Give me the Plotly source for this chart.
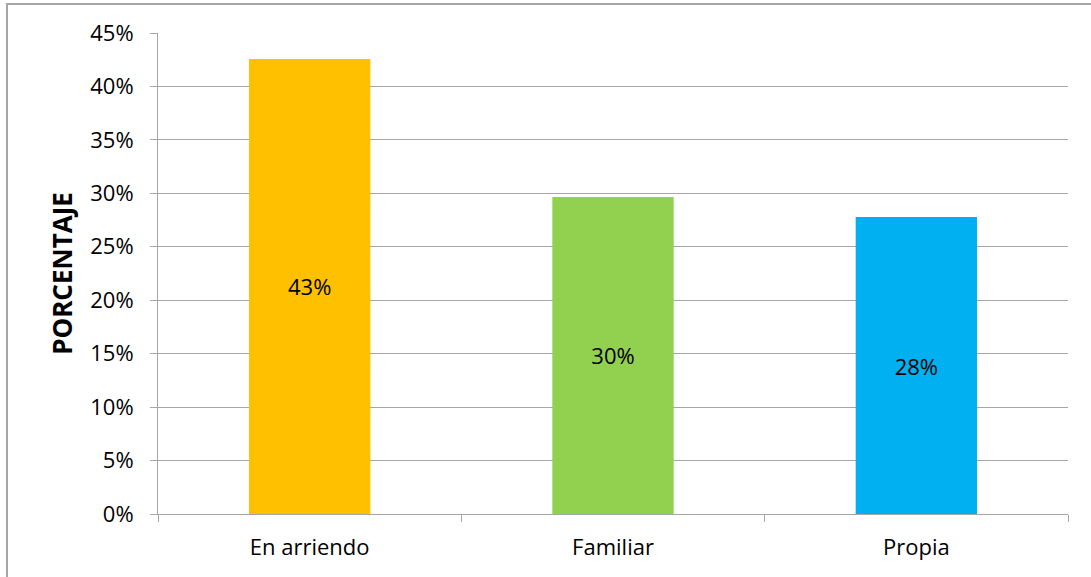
import plotly.graph_objects as go

categories = ["En arriendo", "Familiar", "Propia"]
values = [0.4257, 0.2966, 0.2778]
colors = ["#FFC000", "#92D050", "#00B0F0"]

W, H = 1091, 577
L, R, T, B = 158, 23, 33, 63
pw, ph = W - L - R, H - T - B
FONT = "Open Sans"

fig = go.Figure(go.Bar(
    x=categories, y=values,
    marker=dict(color=colors, line=dict(width=0)),
    texttemplate="%{y:.0%}", textposition="inside", insidetextanchor="middle",
    textfont=dict(family=FONT, size=22, color="black"),
    hoverinfo="skip",
))

fig.update_layout(
    width=W, height=H,
    margin=dict(l=L, r=R, t=T, b=B, autoexpand=False),
    paper_bgcolor="white", plot_bgcolor="white",
    bargap=0.6, showlegend=False,
    font=dict(family=FONT, size=22, color="black"),
    xaxis=dict(
        showline=True, linecolor="#a6a6a6", linewidth=1,
        ticks="outside", ticklen=7, tickcolor="#a6a6a6", tickson="boundaries",
        showgrid=False, tickfont=dict(size=22), ticklabelstandoff=14,
    ),
    yaxis=dict(
        range=[0, 0.45], dtick=0.05, tickformat=".0%",
        showline=True, linecolor="#a6a6a6", linewidth=1,
        ticks="outside", ticklen=7, tickcolor="#a6a6a6",
        showgrid=True, gridcolor="#a6a6a6", gridwidth=1,
        zeroline=False, tickfont=dict(size=22), ticklabelstandoff=12,
        title=dict(text="<b>PORCENTAJE</b>", font=dict(size=26), standoff=10),
    ),
    shapes=[dict(
        type="rect", xref="paper", yref="paper",
        x0=(7 - L) / pw, x1=1.2, y0=-0.3, y1=1 + (T - 4) / ph,
        line=dict(color="#a6a6a6", width=2), fillcolor="rgba(0,0,0,0)",
        layer="below",
    )],
)

fig.write_html("out.html", config={"displayModeBar": False},
               post_script="document.body.style.margin='0';")
